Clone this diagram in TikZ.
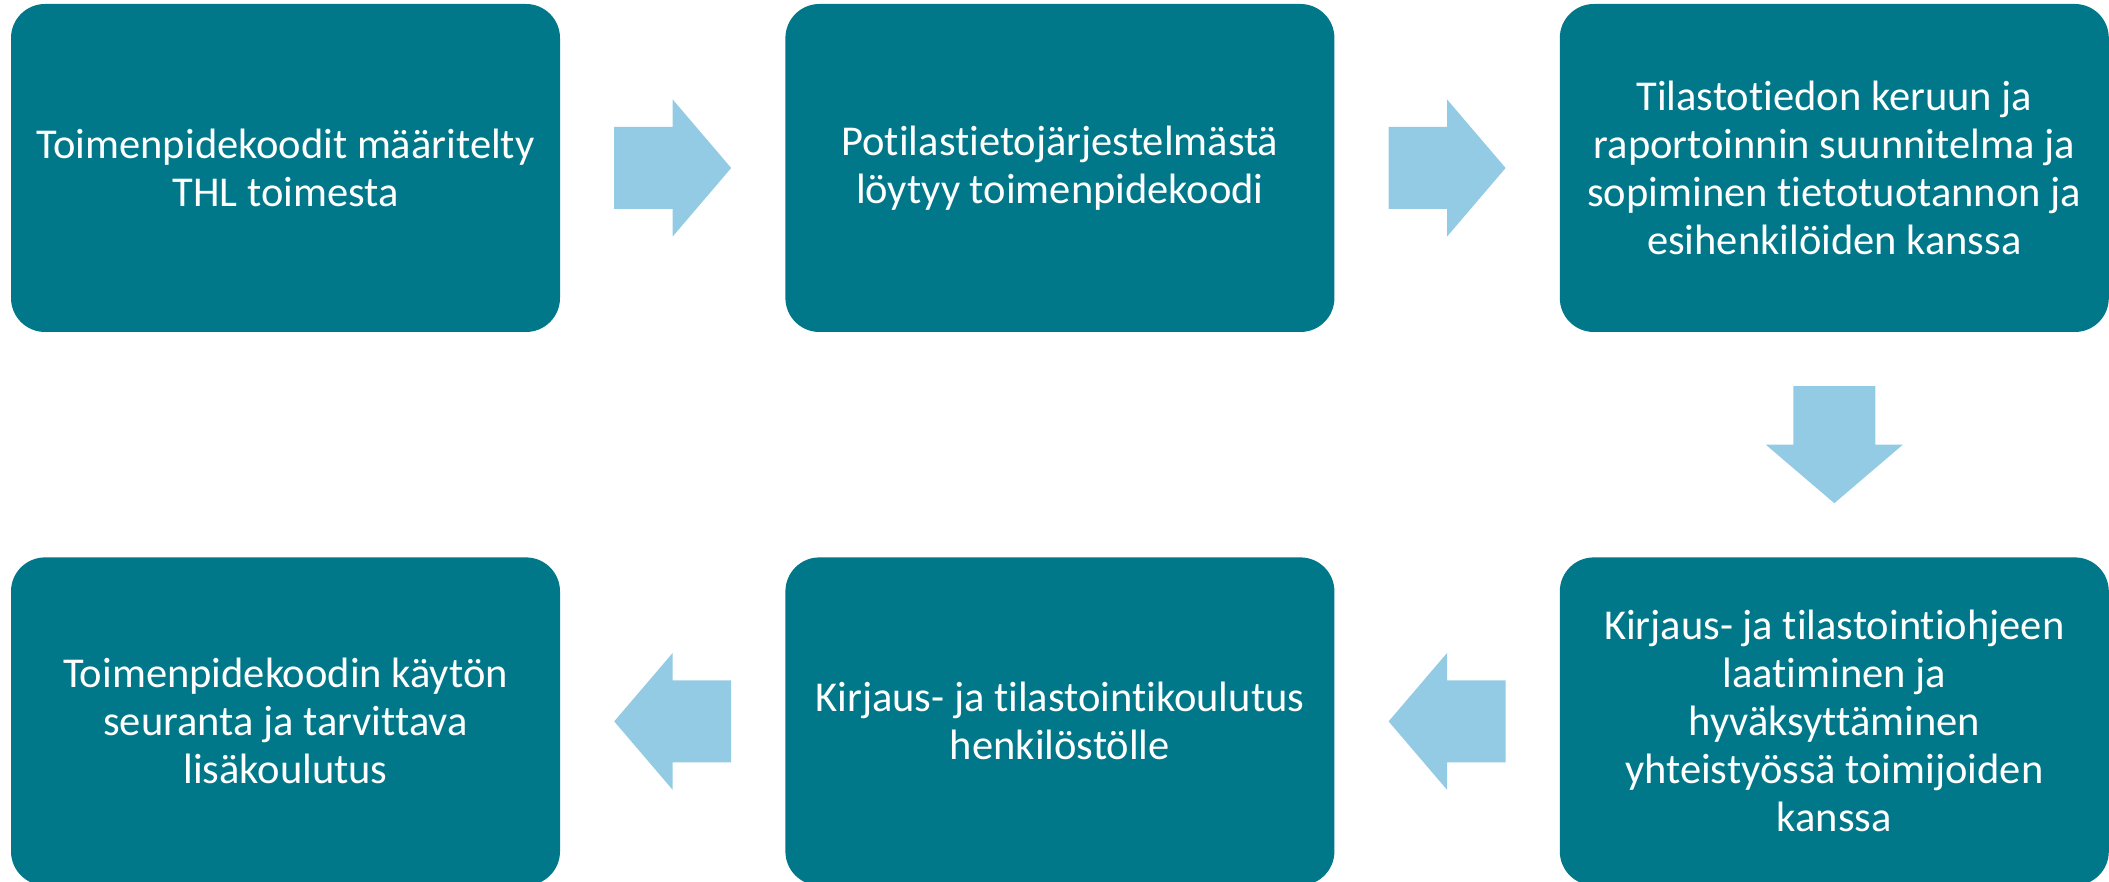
\documentclass[tikz,border=0pt]{standalone}
\usepackage{fontspec}
\setmainfont{Carlito}[Ligatures=NoCommon]
\usetikzlibrary{positioning,calc}

\definecolor{boxteal}{RGB}{0,120,138}
\definecolor{arrowblue}{RGB}{147,203,228}

\tikzset{
  stepbox/.style={shape=rectangle, fill=boxteal, rounded corners=34pt, text=white,
    minimum width=549pt, minimum height=328pt, align=center,
    font=\fontsize{42.5}{48}\selectfont},
  flowarrow/.style={fill=arrowblue}
}

% block arrow at a point, turned by an angle
\newcommand{\flowarrow}[2]{%
  \fill[flowarrow, shift={(#1)}, rotate=#2]
    (-58.5,-41) -- (0,-41) -- (0,-68.5) -- (58.5,0) -- (0,68.5) -- (0,41) -- (-58.5,41) -- cycle;}

\begin{document}
\begin{tikzpicture}[x=1pt, y=1pt, node distance=225pt]
\useasboundingbox (0,0) rectangle (2109,881);

\node[stepbox] (koodit) at (285.5,713) {Toimenpidekoodit määritelty\\THL toimesta};
\node[stepbox, right=of koodit] (ptj) {Potilastietojärjestelmästä\\löytyy toimenpidekoodi};
\node[stepbox, right=of ptj] (suunnitelma) {Tilastotiedon keruun ja\\raportoinnin suunnitelma ja\\sopiminen tietotuotannon ja\\esihenkilöiden kanssa};
\node[stepbox, below=of suunnitelma] (ohje) {Kirjaus- ja tilastointiohjeen\\laatiminen ja\\hyväksyttäminen\\yhteistyössä toimijoiden\\kanssa};
\node[stepbox, left=of ohje] (koulutus) {Kirjaus- ja tilastointikoulutus\\henkilöstölle};
\node[stepbox, left=of koulutus] (seuranta) {Toimenpidekoodin käytön\\seuranta ja tarvittava\\lisäkoulutus};

\flowarrow{$(koodit.east)!0.5!(ptj.west)$}{0}
\flowarrow{$(ptj.east)!0.5!(suunnitelma.west)$}{0}
\flowarrow{$(suunnitelma.south)!0.5!(ohje.north)$}{-90}
\flowarrow{$(ohje.west)!0.5!(koulutus.east)$}{180}
\flowarrow{$(koulutus.west)!0.5!(seuranta.east)$}{180}
\end{tikzpicture}
\end{document}
